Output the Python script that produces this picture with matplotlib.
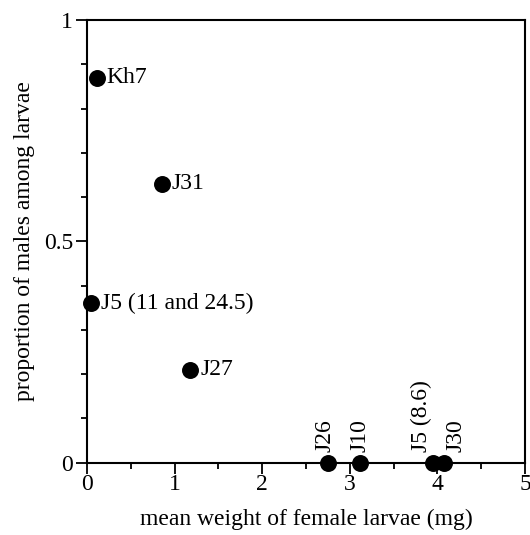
import numpy as np
import matplotlib
matplotlib.use("Agg")
import matplotlib.pyplot as plt
from matplotlib.ticker import MultipleLocator

plt.rcParams['font.family'] = ['Liberation Serif', 'DejaVu Serif']

# data
names = ["Kh7", "J31", "J5 (11 and 24.5)", "J27", "J26", "J10", "J5 (8.6)", "J30"]
weight = [0.11, 0.86, 0.05, 1.18, 2.75, 3.12, 3.95, 4.08]
prop_males = [0.87, 0.63, 0.36, 0.21, 0.0, 0.0, 0.0, 0.0]
# sideways nudge (points) of the upright labels so J5 (8.6) and J30 don't collide
nudge = [0, 0, 0, 0, -2, 0, -8, 8]

fs = 17
fig = plt.figure(figsize=(5.3, 5.35), dpi=100)
ax = fig.add_axes([0.164, 0.135, 0.8266, 0.8276])

ax.scatter(weight, prop_males, s=125, color="black", zorder=5, clip_on=False)

for n, x, y, dx in zip(names, weight, prop_males, nudge):
    if y > 0:
        ax.annotate(n, (x, y), xytext=(7, 0), textcoords="offset points",
                    ha="left", va="center", fontsize=fs)
    else:
        ax.annotate(n, (x, y), xytext=(dx, 8), textcoords="offset points",
                    ha="center", va="bottom", rotation=90, fontsize=fs)

ax.set_xlim(0, 5)
ax.set_ylim(0, 1)
ax.set_xticks([0, 1, 2, 3, 4, 5])
ax.set_yticks([0, 0.5, 1])
ax.set_yticklabels(["0", "0.5", "1"])
ax.xaxis.set_minor_locator(MultipleLocator(0.5))
ax.yaxis.set_minor_locator(MultipleLocator(0.1))
ax.tick_params(which="major", length=8, width=1.3, labelsize=fs, direction="out", pad=2)
ax.tick_params(axis="x", which="major", pad=0)
ax.tick_params(which="minor", length=4, width=1.3, direction="out")
for sp in ax.spines.values():
    sp.set_linewidth(1.5)

ax.set_xlabel("mean weight of female larvae (mg)", fontsize=fs, labelpad=10)
ax.set_ylabel("proportion of males among larvae", fontsize=fs, labelpad=6)

fig.savefig("out.png", dpi=100)
